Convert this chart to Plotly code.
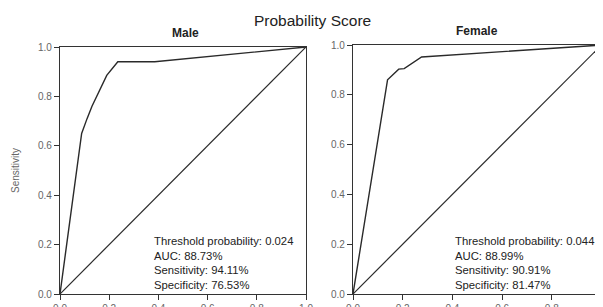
import plotly.graph_objects as go

# Data
male_fpr = [0, 0.088, 0.11, 0.13, 0.19, 0.235, 0.385, 1.0]
male_sens = [0, 0.65, 0.71, 0.76, 0.885, 0.94, 0.94, 1.0]
female_fpr = [0, 0.139, 0.184, 0.206, 0.276, 1.0]
female_sens = [0, 0.86, 0.903, 0.905, 0.952, 1.0]
ref_line = [0, 1]
tick_vals = [0, 0.2, 0.4, 0.6, 0.8, 1.0]
male_text = ["Threshold probability: 0.024", "AUC: 88.73%", "Sensitivity: 94.11%", "Specificity: 76.53%"]
female_text = ["Threshold probability: 0.044", "AUC: 88.99%", "Sensitivity: 90.91%", "Specificity: 81.47%"]

OFF = 8  # page body margin
W, H = 603 - OFF, 307 - OFF
FONT = "Liberation Sans, Arial, sans-serif"
LINE = "#333333"
TICKC = "#666666"

def px(x):
    return (x - OFF) / W

def py(y):
    return (H - (y - OFF)) / H

fig = go.Figure()
fig.add_trace(go.Scatter(x=male_fpr, y=male_sens, mode="lines", line=dict(color="#2a2a2a", width=1.4),
                         xaxis="x", yaxis="y", showlegend=False, hoverinfo="skip"))
fig.add_trace(go.Scatter(x=ref_line, y=ref_line, mode="lines", line=dict(color="#2a2a2a", width=1.2),
                         xaxis="x", yaxis="y", showlegend=False, hoverinfo="skip"))
fig.add_trace(go.Scatter(x=female_fpr, y=female_sens, mode="lines", line=dict(color="#2a2a2a", width=1.4),
                         xaxis="x2", yaxis="y2", showlegend=False, hoverinfo="skip"))
fig.add_trace(go.Scatter(x=ref_line, y=ref_line, mode="lines", line=dict(color="#2a2a2a", width=1.2),
                         xaxis="x2", yaxis="y2", showlegend=False, hoverinfo="skip"))

def ax(domain, anchor):
    return dict(domain=domain, anchor=anchor, range=[0, 1], tickvals=tick_vals,
                tickformat=".1f", showgrid=False, zeroline=False, showline=True,
                linecolor=LINE, linewidth=1.3, mirror=True, ticks="outside", ticklen=5,
                tickcolor=LINE, automargin=False,
                tickfont=dict(family=FONT, size=10, color=TICKC))

fig.update_layout(
    width=W, height=H,
    margin=dict(l=0, r=0, t=0, b=0),
    paper_bgcolor="white", plot_bgcolor="white",
    xaxis=ax([px(60), px(306)], "y"),
    yaxis=dict(**ax([py(294), py(47)], "x"), title=dict(text="Sensitivity", standoff=16,
               font=dict(family=FONT, size=10, color=TICKC))),
    xaxis2=ax([px(353), min(1.0, px(601.5))], "y2"),
    yaxis2=ax([py(294), py(45)], "x2"),
    annotations=[
        dict(text="Probability Score", x=px(312), y=py(21), xref="paper", yref="paper",
             xanchor="center", yanchor="middle",
             showarrow=False, font=dict(family=FONT, size=15.5, color="#222")),
        dict(text="<b>Male</b>", x=px(185), y=py(33), xref="paper", yref="paper",
             xanchor="center", yanchor="middle",
             showarrow=False, font=dict(family=FONT, size=12, color="#222")),
        dict(text="<b>Female</b>", x=px(477), y=py(31), xref="paper", yref="paper",
             xanchor="center", yanchor="middle",
             showarrow=False, font=dict(family=FONT, size=12, color="#222")),
        dict(text="<br>".join(male_text), x=0.372, y=0.245, xref="x", yref="y",
             xanchor="left", yanchor="top", align="left", showarrow=False,
             font=dict(family=FONT, size=11.3, color="#222")),
        dict(text="<br>".join(female_text), x=0.404, y=0.245, xref="x2", yref="y2",
             xanchor="left", yanchor="top", align="left", showarrow=False,
             font=dict(family=FONT, size=11.3, color="#222")),
    ],
)

fig.write_html("out.html")
